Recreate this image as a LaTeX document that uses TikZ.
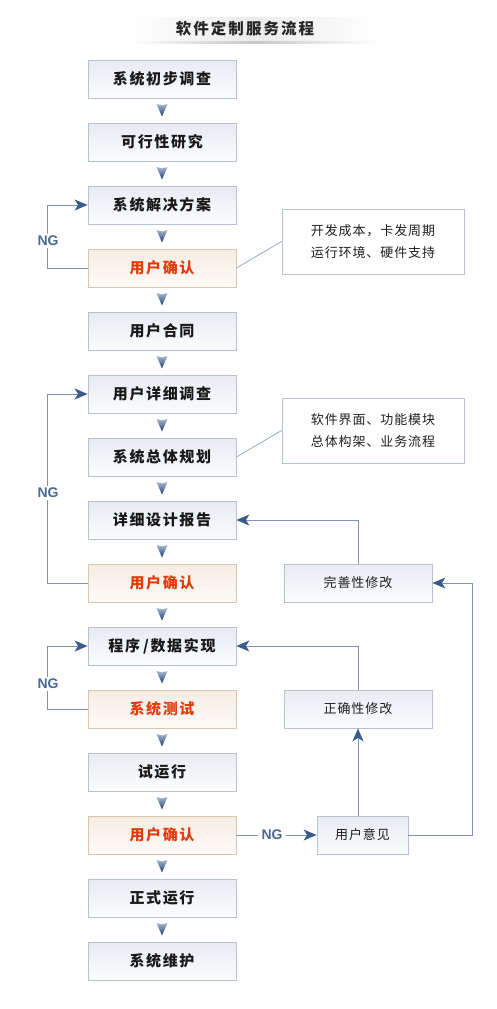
\documentclass[tikz,border=0pt]{standalone}
\usepackage{fontspec}
\setmainfont{Liberation Sans}
\newfontfamily\cjkm[LetterSpace=11]{Noto Sans CJK SC}
\newfontfamily\cjkt[LetterSpace=13]{Noto Sans CJK SC}
\newfontfamily\cjkn[LetterSpace=7]{Noto Sans CJK SC}
\usetikzlibrary{arrows.meta,calc}
\definecolor{boxborder}{HTML}{B7C1CF}
\definecolor{boxtop}{HTML}{E7EBF2}
\definecolor{boxbot}{HTML}{FBFCFD}
\definecolor{obord}{HTML}{D8C6AF}
\definecolor{otop}{HTML}{F6EDE3}
\definecolor{obot}{HTML}{FDFAF7}
\definecolor{otext}{HTML}{E03C0E}
\definecolor{conncol}{HTML}{7D93B6}
\definecolor{arrcol}{HTML}{3A5C8C}
\definecolor{ngcol}{HTML}{4A6994}
\definecolor{notecol}{HTML}{9AA8BB}
\definecolor{triTop}{HTML}{A4B6D0}
\definecolor{triBot}{HTML}{20406F}
\tikzset{
  x=1pt,y=-1pt,
  mainbox/.style={draw=boxborder,line width=0.8pt,top color=boxtop,bottom color=boxbot,
    minimum width=148pt,minimum height=38pt,inner sep=0pt,
    font=\cjkm\bfseries\fontsize{15}{17}\selectfont,text=black!90},
  okbox/.style={mainbox,draw=obord,top color=otop,bottom color=obot,text=otext},
  sidebox/.style={draw=boxborder,line width=0.8pt,top color=boxtop,bottom color=boxbot,
    minimum width=148pt,minimum height=38pt,inner sep=0pt,
    font=\cjkn\fontsize{13}{15}\selectfont,text=black!88},
  notebox/.style={draw=boxborder,line width=0.8pt,fill=white,
    minimum width=182pt,minimum height=65pt,inner sep=0pt,align=center,
    font=\cjkn\fontsize{13}{22}\selectfont,text=black!88},
  conn/.style={draw=conncol,line width=1pt,-{Stealth[length=13pt,width=11pt,inset=3.5pt,color=arrcol]}},
  connplain/.style={draw=conncol,line width=1pt},
  ng/.style={fill=white,inner sep=2pt,text=ngcol,font=\bfseries\fontsize{14}{16}\selectfont},
  noteline/.style={draw=notecol,line width=0.8pt}
}
\newcommand{\downtri}[2]{%
  \path let \p1=($(#1.south)!0.5!(#2.north)$) in
    [top color=triTop,bottom color=triBot,draw=none]
    (\x1-5.5pt,\y1+6.5pt) -- (\x1,\y1+5pt) -- (\x1+5.5pt,\y1+6.5pt) -- (\x1,\y1-6pt) -- cycle;}
\begin{document}
\begin{tikzpicture}
\useasboundingbox[fill=white] (0,0) rectangle (496,1009);
% title bar
\shade[left color=white,right color=white,middle color=black!8] (128,17) rectangle (378,41);
\shade[left color=white,right color=white,middle color=black!22] (128,41) rectangle (378,43);
\node[font=\cjkt\bfseries\fontsize{15.5}{17}\selectfont,text=black!85] (title) at (245,29) {软件定制服务流程};
% main boxes
\node[mainbox] (c1) at (162,79) {系统初步调查};
\node[mainbox] (c2) at (162,142) {可行性研究};
\node[mainbox] (c3) at (162,205) {系统解决方案};
\node[okbox] (c4) at (162,268) {用户确认};
\node[mainbox] (c5) at (162,331) {用户合同};
\node[mainbox] (c6) at (162,394) {用户详细调查};
\node[mainbox] (c7) at (162,457) {系统总体规划};
\node[mainbox] (c8) at (162,520) {详细设计报告};
\node[okbox] (c9) at (162,583) {用户确认};
\node[mainbox] (c10) at (162,646) {程序\hspace{3pt}/数据实现};
\node[okbox] (c11) at (162,709) {系统测试};
\node[mainbox] (c12) at (162,772) {试运行};
\node[okbox] (c13) at (162,835) {用户确认};
\node[mainbox] (c14) at (162,898) {正式运行};
\node[mainbox] (c15) at (162,961) {系统维护};
% down triangles
\downtri{c1}{c2}\downtri{c2}{c3}\downtri{c3}{c4}\downtri{c4}{c5}\downtri{c5}{c6}
\downtri{c6}{c7}\downtri{c7}{c8}\downtri{c8}{c9}\downtri{c9}{c10}\downtri{c10}{c11}
\downtri{c11}{c12}\downtri{c12}{c13}\downtri{c13}{c14}\downtri{c14}{c15}
% notes
\node[notebox] (n1) at (373,241.5) {开发成本，卡发周期\\运行环境、硬件支持};
\node[notebox] (n2) at (373,430.5) {软件界面、功能模块\\总体构架、业务流程};
\draw[noteline] (c4.east) -- (n1.west);
\draw[noteline] (c7.east) -- (n2.west);
% right boxes
\node[sidebox] (f1) at (358,583) {完善性修改};
\node[sidebox] (f2) at (358,709) {正确性修改};
\node[sidebox,minimum width=91pt] (u) at (362.5,835) {用户意见};
% NG loops
\draw[conn] (c4.west) -- ++(-40,0) |- (c3.west);
\node[ng] (ng1) at (48,241) {NG};
\draw[conn] (c9.west) -- ++(-40,0) |- (c6.west);
\node[ng] (ng2) at (48,493) {NG};
\draw[conn] (c11.west) -- ++(-40,0) |- (c10.west);
\node[ng] (ng3) at (48,684) {NG};
% right side connectors
\draw[conn] (f1.north) |- (c8.east);
\draw[conn] (f2.north) |- (c10.east);
\draw[conn] (u.north -| f2.south) -- (f2.south);
\draw[conn] (u.east) -- ++(64,0) |- (f1.east);
\node[ng,inner sep=3pt] (ng4) at (272,835) {NG};
\draw[connplain] (c13.east) -- (ng4.west);
\draw[conn] (ng4.east) -- (u.west);
\end{tikzpicture}
\end{document}
